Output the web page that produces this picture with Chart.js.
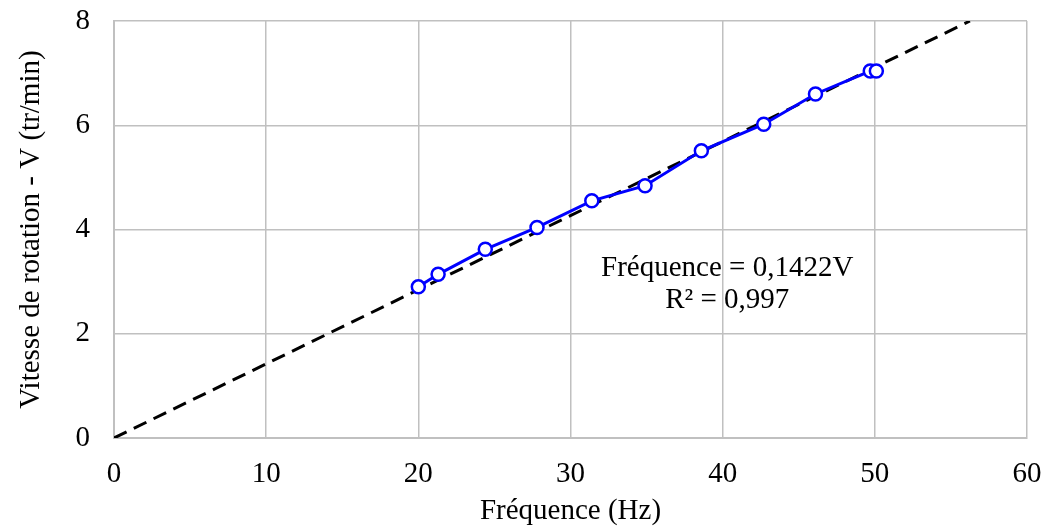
<!DOCTYPE html>
<html>
<head>
<meta charset="utf-8">
<script src="https://cdn.jsdelivr.net/npm/chart.js@4/dist/chart.umd.min.js"></script>
<style>
  html, body { margin: 0; padding: 0; background: #fff; }
  #wrap { width: 1046px; height: 529px; }
</style>
</head>
<body>
<div id="wrap"><canvas id="chart" width="1046" height="529"></canvas></div>
<script>
// measured points (frequency in Hz, speed in tr/min)
let freqHz = [20.0, 21.3, 24.4, 27.8, 31.4, 34.9, 38.6, 42.7, 46.1, 49.7, 50.1];
let speedV = [2.90, 3.14, 3.62, 4.04, 4.55, 4.84, 5.51, 6.02, 6.60, 7.04, 7.04];

// linear trend through origin
let trendX = [0, 56.25];
let trendY = [0, 8];

let xTicks = [0, 10, 20, 30, 40, 50, 60];
let yTicks = [0, 2, 4, 6, 8];

let eqLines = ["Fréquence = 0,1422V", "R² = 0,997"];

const FONT = "'Liberation Serif', 'DejaVu Serif', serif";
const FSIZE = 29;

///////////////////////////////////////////////////////////////////////////////
// draws the trendline equation text
const eqLabel = {
    id: "eqLabel",
    afterDatasetsDraw(chart)
    {
        let ctx = chart.ctx;
        let xs = chart.scales.x, ys = chart.scales.y;
        let cx = xs.getPixelForValue(40.3);
        let cy = ys.getPixelForValue(3.26);
        ctx.save();
        ctx.font = FSIZE + "px " + FONT;
        ctx.fillStyle = "#000";
        ctx.textAlign = "center";
        ctx.textBaseline = "middle";
        ctx.fillText(eqLines[0], cx, cy);
        ctx.fillText(eqLines[1], cx, cy + 32);
        ctx.restore();
    }
};

document.addEventListener("DOMContentLoaded", e =>
{
    let context = document.getElementById("chart").getContext("2d");

    new Chart(context,
    {
        type: "scatter",
        data:
        {
            datasets:
            [{
                data: trendX.map((x, i) => ({x: x, y: trendY[i]})),
                showLine: true,
                borderColor: "#000",
                borderWidth: 3,
                borderDash: [14, 8],
                pointRadius: 0,
                fill: false,
                order: 1
            },
            {
                data: freqHz.map((x, i) => ({x: x, y: speedV[i]})),
                showLine: true,
                lineTension: 0,
                borderColor: "#0000ff",
                borderWidth: 3,
                backgroundColor: "#fff",
                pointBackgroundColor: "#fff",
                pointBorderColor: "#0000ff",
                pointBorderWidth: 2.5,
                pointRadius: 6.5,
                fill: false,
                order: 0
            }]
        },
        options:
        {
            responsive: false,
            animation: false,
            layout: { padding: { top: 21, right: 19, left: 0, bottom: 0 } },
            plugins:
            {
                legend: { display: false },
                tooltip: { enabled: false }
            },
            scales:
            {
                x:
                {
                    type: "linear",
                    min: 0, max: 60,
                    afterBuildTicks: s => { s.ticks = xTicks.map(v => ({value: v})); },
                    afterFit: s => { s.height = 91; s.paddingLeft = 0; s.paddingRight = 0; },
                    grid: { color: "#c0c0c0", lineWidth: 1.5, drawTicks: false },
                    border: { color: "#c0c0c0", width: 2 },
                    ticks: { color: "#000", font: { family: FONT, size: FSIZE }, padding: 19, maxRotation: 0 },
                    title:
                    {
                        display: true,
                        text: "Fréquence (Hz)",
                        color: "#000",
                        font: { family: FONT, size: FSIZE },
                        padding: { top: 0, bottom: 0 }
                    }
                },
                y:
                {
                    type: "linear",
                    min: 0, max: 8,
                    afterBuildTicks: s => { s.ticks = yTicks.map(v => ({value: v})); },
                    afterFit: s => { s.width = 114; s.paddingTop = 0; s.paddingBottom = 0; },
                    grid: { color: "#c0c0c0", lineWidth: 1.5, drawTicks: false },
                    border: { color: "#c0c0c0", width: 2 },
                    ticks: { color: "#000", font: { family: FONT, size: FSIZE }, padding: 24 },
                    title:
                    {
                        display: true,
                        text: "Vitesse de rotation - V (tr/min)",
                        color: "#000",
                        font: { family: FONT, size: FSIZE },
                        padding: { top: 14, bottom: 0 }
                    }
                }
            }
        },
        plugins: [eqLabel]
    });
});
</script>
</body>
</html>
